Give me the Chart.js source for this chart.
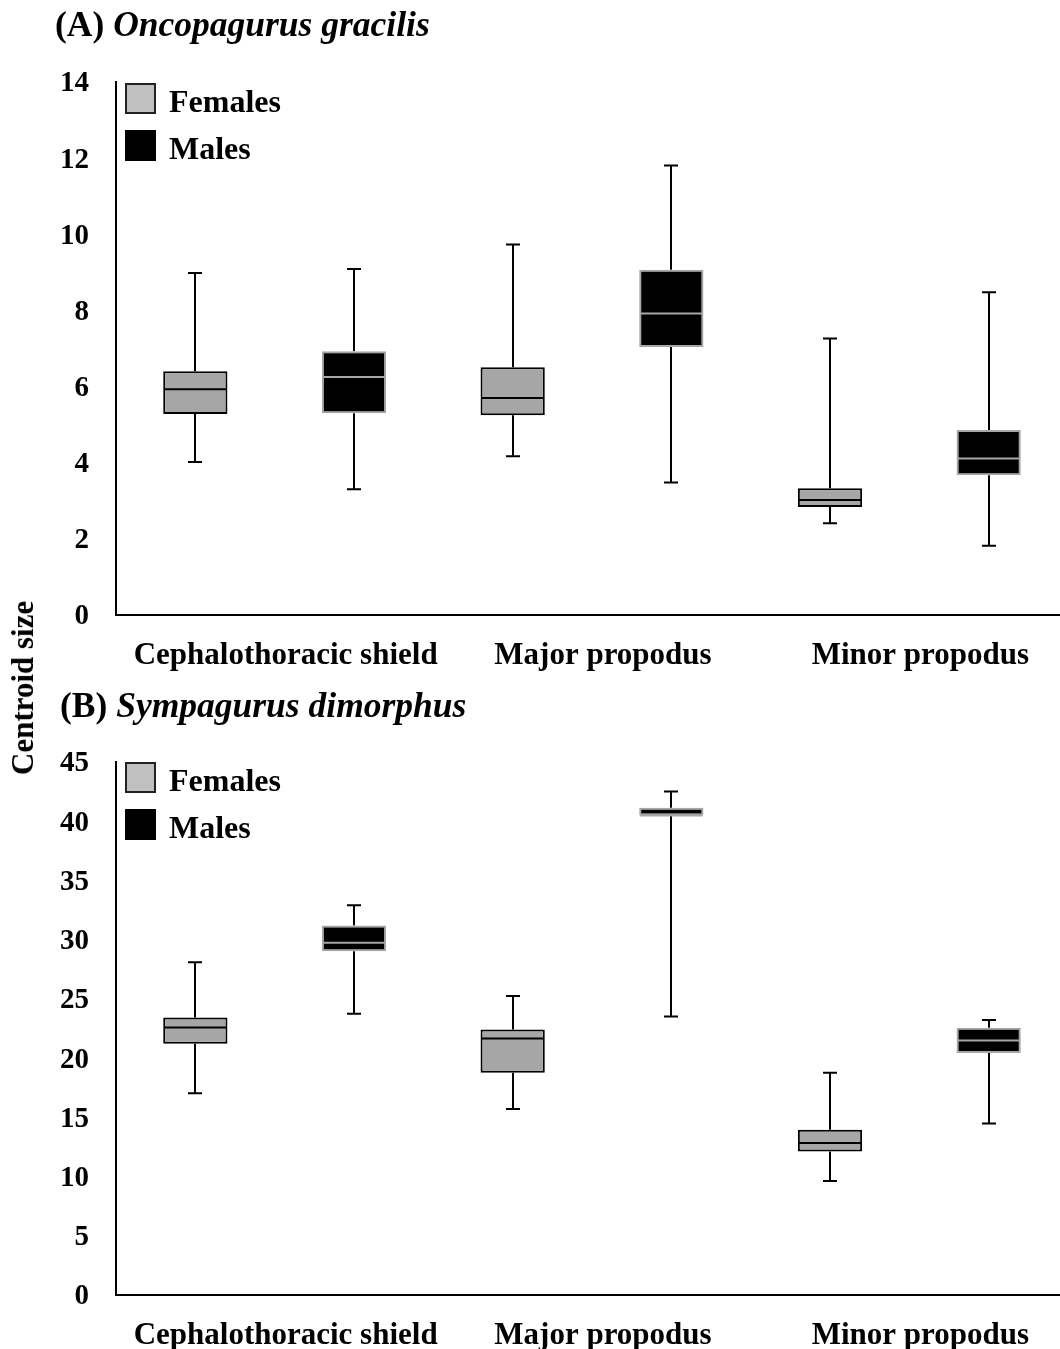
<!DOCTYPE html>
<html lang="en">
<head>
  <meta charset="UTF-8">
  <title>Centroid size</title>
  <script src="https://cdn.jsdelivr.net/npm/chart.js"></script>
  <style>
    html, body { margin: 0; padding: 0; background: #fff; overflow: hidden; }
    body { font-family: 'Liberation Serif', 'Times New Roman', serif; font-weight: bold; color: #000; }
    #page { position: relative; width: 1060px; height: 1349px; overflow: hidden; }
    .panel-title { position: absolute; font-size: 35.5px; line-height: 1; white-space: nowrap; }
    .panel-title i { font-style: italic; }
    canvas { position: absolute; left: 0; }
    .legend { position: absolute; left: 125px; font-size: 32px; }
    .legend-item { display: flex; align-items: center; height: 31px; margin-bottom: 16px; }
    .legend-item span:last-child { position: relative; top: 3px; }
    .swatch { width: 31px; height: 31px; box-sizing: border-box; margin-right: 13px; }
    #ytitle {
      position: absolute; left: 23px; top: 688px; font-size: 31px; white-space: nowrap;
      transform: translate(-50%, -50%) rotate(-90deg);
    }
  </style>
</head>
<body>
<div id="page">
  <canvas id="chart-a" width="1068" height="680" style="top:0"></canvas>
  <canvas id="chart-b" width="1068" height="680" style="top:680px"></canvas>

  <div class="panel-title" style="left:55px; top:7px">(A) <i>Oncopagurus gracilis</i></div>
  <div class="panel-title" style="left:60px; top:688px">(B) <i>Sympagurus dimorphus</i></div>

  <div class="legend" id="legend-a" style="top:83px"></div>
  <div class="legend" id="legend-b" style="top:762px"></div>

  <div id="ytitle">Centroid size</div>
</div>

<script>
  // kategori sumbu x
  const categories = ['Cephalothoracic shield', 'Major propodus', 'Minor propodus'];
  const seriesNames = ['Females', 'Males'];

  // (A) Oncopagurus gracilis
  const aFemMin = [4.02, 4.17, 2.41];
  const aFemQ1  = [5.28, 5.25, 2.84];
  const aFemMed = [5.93, 5.70, 3.02];
  const aFemQ3  = [6.40, 6.51, 3.33];
  const aFemMax = [8.98, 9.73, 7.26];

  const aMalMin = [3.30, 3.48, 1.82];
  const aMalQ1  = [5.30, 7.04, 3.67];
  const aMalMed = [6.25, 7.92, 4.11];
  const aMalQ3  = [6.93, 9.07, 4.86];
  const aMalMax = [9.09, 11.81, 8.48];

  // (B) Sympagurus dimorphus
  const bFemMin = [17.03, 15.71, 9.62];
  const bFemQ1  = [21.21, 18.76, 12.12];
  const bFemMed = [22.59, 21.66, 12.83];
  const bFemQ3  = [23.43, 22.42, 13.96];
  const bFemMax = [28.09, 25.24, 18.76];

  const bMalMin = [23.75, 23.52, 14.47];
  const bMalQ1  = [29.02, 40.48, 20.44];
  const bMalMed = [29.75, 40.48, 21.49];
  const bMalQ3  = [31.19, 41.13, 22.56];
  const bMalMax = [32.91, 42.50, 23.21];

  // sumbu y tiap panel
  const yMaxA = 14, yStepA = 2;
  const yMaxB = 45, yStepB = 5;

  const FEMALE_FILL = '#a6a6a6';
  const MALE_FILL = '#000000';

  Chart.defaults.font.family = "'Liberation Serif', 'Times New Roman', serif";
  Chart.defaults.font.weight = 'bold';
  Chart.defaults.color = '#000';

  // kumis + median digambar di sekitar floating bar
  const boxWhiskers = {
    id: 'boxWhiskers',
    beforeDatasetsDraw(chart) {
      const ctx = chart.ctx;
      const y = chart.scales.y;
      ctx.save();
      ctx.strokeStyle = '#000';
      ctx.lineWidth = 2;
      chart.data.datasets.forEach((ds, i) => {
        chart.getDatasetMeta(i).data.forEach((bar, j) => {
          const x = Math.round(bar.x);
          const cap = 7;
          const lo = y.getPixelForValue(ds.whiskerMin[j]);
          const hi = y.getPixelForValue(ds.whiskerMax[j]);
          const q1 = y.getPixelForValue(ds.data[j][0]);
          const q3 = y.getPixelForValue(ds.data[j][1]);
          ctx.beginPath();
          ctx.moveTo(x, hi); ctx.lineTo(x, q3);
          ctx.moveTo(x, q1); ctx.lineTo(x, lo);
          ctx.moveTo(x - cap, hi); ctx.lineTo(x + cap, hi);
          ctx.moveTo(x - cap, lo); ctx.lineTo(x + cap, lo);
          ctx.stroke();
        });
      });
      ctx.restore();
    },
    afterDatasetsDraw(chart) {
      const ctx = chart.ctx;
      const y = chart.scales.y;
      ctx.save();
      ctx.lineWidth = 2;
      chart.data.datasets.forEach((ds, i) => {
        ctx.strokeStyle = ds.medianColor;
        chart.getDatasetMeta(i).data.forEach((bar, j) => {
          const half = bar.width / 2;
          const m = y.getPixelForValue(ds.median[j]);
          ctx.beginPath();
          ctx.moveTo(bar.x - half + 1, m);
          ctx.lineTo(bar.x + half - 1, m);
          ctx.stroke();
        });
      });
      ctx.restore();
    }
  };

  function makeSeries(label, min, q1, med, q3, max, fill, edge) {
    return {
      label,
      data: q1.map((v, i) => [v, q3[i]]),
      whiskerMin: min,
      whiskerMax: max,
      median: med,
      medianColor: edge,
      backgroundColor: fill,
      borderColor: edge,
      borderWidth: 2,
      borderSkipped: false,
      categoryPercentage: 1.0,
      barPercentage: 0.405
    };
  }

  function makePanel(canvasId, yMax, yStep, female, male) {
    new Chart(document.getElementById(canvasId), {
      type: 'bar',
      data: { labels: categories, datasets: [female, male] },
      options: {
        responsive: false,
        animation: false,
        layout: { padding: { top: 82, left: 0, right: 0, bottom: 0 } },
        plugins: { legend: { display: false }, tooltip: { enabled: false } },
        scales: {
          x: {
            grid: { display: false, drawTicks: false },
            border: { display: true, color: '#000', width: 2 },
            ticks: { padding: 22, labelOffset: 11, font: { size: 31 }, maxRotation: 0, autoSkip: false },
            afterFit(s) { s.height = 65; }
          },
          y: {
            min: 0, max: yMax,
            grid: { display: false, drawTicks: false },
            border: { display: true, color: '#000', width: 2 },
            ticks: { stepSize: yStep, padding: 27, labelOffset: 2, font: { size: 29 } },
            afterFit(s) { s.width = 116; }
          }
        }
      },
      plugins: [boxWhiskers]
    });
  }

  function makeLegend(id) {
    const swatches = [
      { fill: '#c0c0c0', edge: '#222' },
      { fill: '#000', edge: '#000' }
    ];
    document.getElementById(id).innerHTML = seriesNames.map((name, i) =>
      `<div class="legend-item"><span class="swatch" style="background:${swatches[i].fill};border:2px solid ${swatches[i].edge}"></span><span>${name}</span></div>`
    ).join('');
  }

  makePanel('chart-a', yMaxA, yStepA,
    makeSeries(seriesNames[0], aFemMin, aFemQ1, aFemMed, aFemQ3, aFemMax, FEMALE_FILL, '#000'),
    makeSeries(seriesNames[1], aMalMin, aMalQ1, aMalMed, aMalQ3, aMalMax, MALE_FILL, FEMALE_FILL));
  makePanel('chart-b', yMaxB, yStepB,
    makeSeries(seriesNames[0], bFemMin, bFemQ1, bFemMed, bFemQ3, bFemMax, FEMALE_FILL, '#000'),
    makeSeries(seriesNames[1], bMalMin, bMalQ1, bMalMed, bMalQ3, bMalMax, MALE_FILL, FEMALE_FILL));
  makeLegend('legend-a');
  makeLegend('legend-b');
</script>
</body>
</html>
